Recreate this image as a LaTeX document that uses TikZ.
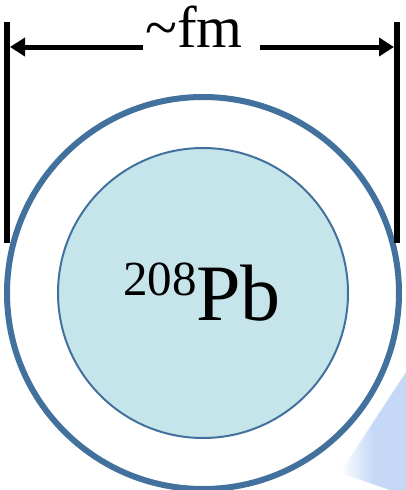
\documentclass[tikz,border=0pt]{standalone}
\usepackage{fontspec}
\setmainfont{Liberation Serif}
\usetikzlibrary{arrows.meta}
\definecolor{ringblue}{HTML}{41719C}
\definecolor{corefill}{HTML}{C6E5EA}
\definecolor{wedgeblue}{HTML}{C5D9F6}
\tikzset{
  ring/.style={circle, draw=ringblue, line width=6pt, minimum size=392pt, inner sep=0pt},
  core/.style={circle, draw=ringblue, fill=corefill, line width=2pt, minimum size=290pt, inner sep=0pt},
  tick/.style={line width=6pt, black},
  dimarrow/.style={line width=5pt, black, -{Triangle[length=15pt,width=18pt]}},
}
\begin{document}
\begin{tikzpicture}[x=1pt,y=-1pt]
\useasboundingbox (0,0) rectangle (406,490);
% wedge bottom right
\shade[left color=white, right color=wedgeblue, shading angle=90, middle color=wedgeblue]
  (340,473) -- (406,372) -- (406,490) -- (390,490) -- cycle;
\node[ring] (outer) at (203,293) {};
\node[core] (core) at (203,293) {};
\node[anchor=base, inner sep=0pt] (label) at (202,320)
  {\raisebox{25pt}{\fontsize{49}{49}\selectfont 208}\fontsize{80}{80}\selectfont Pb};
% dimension
\coordinate (ltop) at (7,22);
\coordinate (lbot) at (7,243);
\coordinate (rtop) at (397,22);
\coordinate (rbot) at (397,243);
\draw[tick] (ltop) -- (lbot);
\draw[tick] (rtop) -- (rbot);
\node[anchor=base, inner sep=0pt] (fm) at (194,47) {\fontsize{59}{59}\selectfont\textasciitilde fm};
\coordinate (al) at (143,47);
\coordinate (ar) at (260,47);
\coordinate (tl) at (10,47);
\coordinate (tr) at (394,47);
\draw[dimarrow] (al) -- (tl);
\draw[dimarrow] (ar) -- (tr);
\end{tikzpicture}
\end{document}
